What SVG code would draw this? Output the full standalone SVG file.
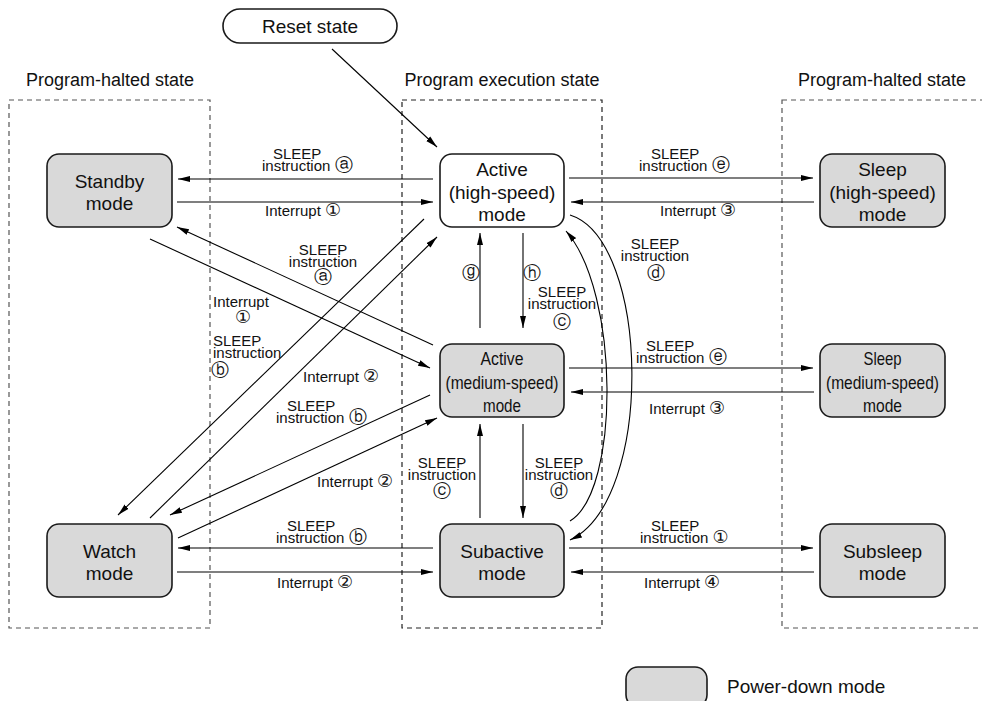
<svg xmlns="http://www.w3.org/2000/svg" width="982" height="701" viewBox="0 0 982 701">
<style>
text{font-family:"Liberation Sans","DejaVu Sans",Arial,sans-serif;fill:#111}
.hd{font-size:18px;text-anchor:middle}
.nt{font-size:19px;text-anchor:middle}
.lb{font-size:15px}
.k{font-size:18px}
.c{text-anchor:middle}
.box{stroke:#1a1a1a;stroke-width:1.6}
.pd{fill:#d9d9d9}
.wh{fill:#fff}
.dash{fill:none;stroke:#555;stroke-width:1.2;stroke-dasharray:5,4}
.cn{fill:none;stroke:#000;stroke-width:1.1;marker-end:url(#ah)}
</style>
<defs>
<marker id="ah" viewBox="0 0 12 8" refX="12" refY="4" markerWidth="12" markerHeight="8" markerUnits="userSpaceOnUse" orient="auto">
<path d="M0,1 L12,4 L0,7 z" fill="#000"/>
</marker>
</defs>
<rect width="982" height="701" fill="#fff"/>

<g id="regions">
<rect class="dash" x="9" y="100" width="201" height="528"/>
<rect class="dash" x="402" y="100" width="200" height="528" style="stroke:#222"/>
<rect class="dash" x="782" y="100" width="212" height="528"/>
<text class="hd" x="110" y="86">Program-halted state</text>
<text class="hd" x="502" y="86">Program execution state</text>
<text class="hd" x="882" y="86">Program-halted state</text>
</g>

<g id="reset">
<rect class="box wh" x="223" y="9" width="174" height="34" rx="17"/>
<text class="nt" x="310" y="33">Reset state</text>
</g>
<g id="standby">
<rect class="box pd" x="47" y="154" width="125" height="73" rx="12"/>
<text class="nt" x="109.5" y="188">Standby</text>
<text class="nt" x="109.5" y="210">mode</text>
</g>
<g id="active-high">
<rect class="box wh" x="440" y="154" width="124" height="73" rx="12"/>
<text class="nt" x="502" y="176">Active</text>
<text class="nt" x="502" y="199">(high-speed)</text>
<text class="nt" x="502" y="221">mode</text>
</g>
<g id="sleep-high">
<rect class="box pd" x="820" y="154" width="125" height="73" rx="12"/>
<text class="nt" x="882.5" y="176">Sleep</text>
<text class="nt" x="882.5" y="199">(high-speed)</text>
<text class="nt" x="882.5" y="221">mode</text>
</g>
<g id="active-medium">
<rect class="box pd" x="440" y="344" width="124" height="73" rx="12"/>
<text class="nt" x="502" y="365" textLength="43" lengthAdjust="spacingAndGlyphs">Active</text>
<text class="nt" x="502" y="389" textLength="113" lengthAdjust="spacingAndGlyphs">(medium-speed)</text>
<text class="nt" x="502" y="412" textLength="38" lengthAdjust="spacingAndGlyphs">mode</text>
</g>
<g id="sleep-medium">
<rect class="box pd" x="820" y="344" width="125" height="73" rx="12"/>
<text class="nt" x="882.5" y="365" textLength="38" lengthAdjust="spacingAndGlyphs">Sleep</text>
<text class="nt" x="882.5" y="389" textLength="113" lengthAdjust="spacingAndGlyphs">(medium-speed)</text>
<text class="nt" x="882.5" y="412" textLength="39" lengthAdjust="spacingAndGlyphs">mode</text>
</g>
<g id="watch">
<rect class="box pd" x="47" y="524" width="125" height="73" rx="12"/>
<text class="nt" x="109.5" y="558">Watch</text>
<text class="nt" x="109.5" y="580">mode</text>
</g>
<g id="subactive">
<rect class="box pd" x="440" y="524" width="124" height="73" rx="12"/>
<text class="nt" x="502" y="558">Subactive</text>
<text class="nt" x="502" y="580">mode</text>
</g>
<g id="subsleep">
<rect class="box pd" x="820" y="524" width="125" height="73" rx="12"/>
<text class="nt" x="882.5" y="558">Subsleep</text>
<text class="nt" x="882.5" y="580">mode</text>
</g>
<g id="legend">
<rect class="box pd" x="626" y="667" width="81" height="40" rx="12"/>
<text class="nt" x="727" y="693" style="text-anchor:start">Power-down mode</text>
</g>

<g id="connectors">
<line class="cn" x1="332" y1="49" x2="437" y2="147"/>
<line class="cn" x1="433" y1="179" x2="178" y2="179"/>
<line class="cn" x1="177" y1="202" x2="433" y2="202"/>
<line class="cn" x1="569" y1="178" x2="813" y2="178"/>
<line class="cn" x1="814" y1="202" x2="571" y2="202"/>
<line class="cn" x1="569" y1="368" x2="813" y2="368"/>
<line class="cn" x1="814" y1="392" x2="571" y2="392"/>
<line class="cn" x1="433" y1="548" x2="178" y2="548"/>
<line class="cn" x1="177" y1="572" x2="433" y2="572"/>
<line class="cn" x1="569" y1="548" x2="813" y2="548"/>
<line class="cn" x1="814" y1="572" x2="571" y2="572"/>
<line class="cn" x1="480" y1="328" x2="480" y2="233"/>
<line class="cn" x1="523" y1="233" x2="523" y2="328"/>
<line class="cn" x1="480" y1="518" x2="480" y2="424"/>
<line class="cn" x1="523" y1="424" x2="523" y2="518"/>
<line class="cn" x1="433" y1="345" x2="177" y2="227"/>
<line class="cn" x1="150" y1="239" x2="430" y2="368"/>
<line class="cn" x1="150" y1="518" x2="437" y2="237"/>
<line class="cn" x1="424" y1="219" x2="118" y2="515"/>
<line class="cn" x1="430" y1="395" x2="170" y2="515"/>
<line class="cn" x1="178" y1="538" x2="437" y2="418"/>
<path class="cn" d="M570,521 C620,491 620,293 566,231"/>
<path class="cn" d="M570,215 C650,240 655,500 570,540"/>
</g>

<g id="labels" class="lb">
<text x="273" y="159">SLEEP</text>
<text x="262" y="171">instruction <tspan class="k">ⓐ</tspan></text>
<text x="265" y="216">Interrupt <tspan class="k">①</tspan></text>
<text x="651" y="159">SLEEP</text>
<text x="639" y="171">instruction <tspan class="k">ⓔ</tspan></text>
<text x="660" y="216">Interrupt <tspan class="k">③</tspan></text>

<text x="646" y="351">SLEEP</text>
<text x="636" y="363">instruction <tspan class="k">ⓔ</tspan></text>
<text x="649" y="414">Interrupt <tspan class="k">③</tspan></text>

<text x="287" y="531">SLEEP</text>
<text x="276" y="543">instruction <tspan class="k">ⓑ</tspan></text>
<text x="277" y="588">Interrupt <tspan class="k">②</tspan></text>
<text x="651" y="531">SLEEP</text>
<text x="640" y="543">instruction <tspan class="k">①</tspan></text>
<text x="644" y="588">Interrupt <tspan class="k">④</tspan></text>

<text class="c k" x="471" y="279">ⓖ</text>
<text class="c k" x="532" y="279">ⓗ</text>
<text class="c" x="562" y="297">SLEEP</text>
<text class="c" x="562" y="309">instruction</text>
<text class="c k" x="562" y="328">ⓒ</text>

<text class="c" x="442" y="468">SLEEP</text>
<text class="c" x="442" y="480">instruction</text>
<text class="c k" x="442" y="497">ⓒ</text>
<text class="c" x="559" y="468">SLEEP</text>
<text class="c" x="559" y="480">instruction</text>
<text class="c k" x="559" y="497">ⓓ</text>

<text class="c" x="655" y="249">SLEEP</text>
<text class="c" x="655" y="261">instruction</text>
<text class="c k" x="656" y="279">ⓓ</text>

<text class="c" x="323" y="255">SLEEP</text>
<text class="c" x="323" y="267">instruction</text>
<text class="c k" x="323" y="283">ⓐ</text>
<text x="213" y="307">Interrupt</text>
<text class="c k" x="243" y="323">①</text>
<text x="213" y="346">SLEEP</text>
<text x="213" y="358">instruction</text>
<text class="c k" x="220" y="376">ⓑ</text>
<text x="303" y="382">Interrupt <tspan class="k">②</tspan></text>
<text x="287" y="411">SLEEP</text>
<text x="276" y="423">instruction <tspan class="k">ⓑ</tspan></text>
<text x="317" y="487">Interrupt <tspan class="k">②</tspan></text>
</g>
</svg>
